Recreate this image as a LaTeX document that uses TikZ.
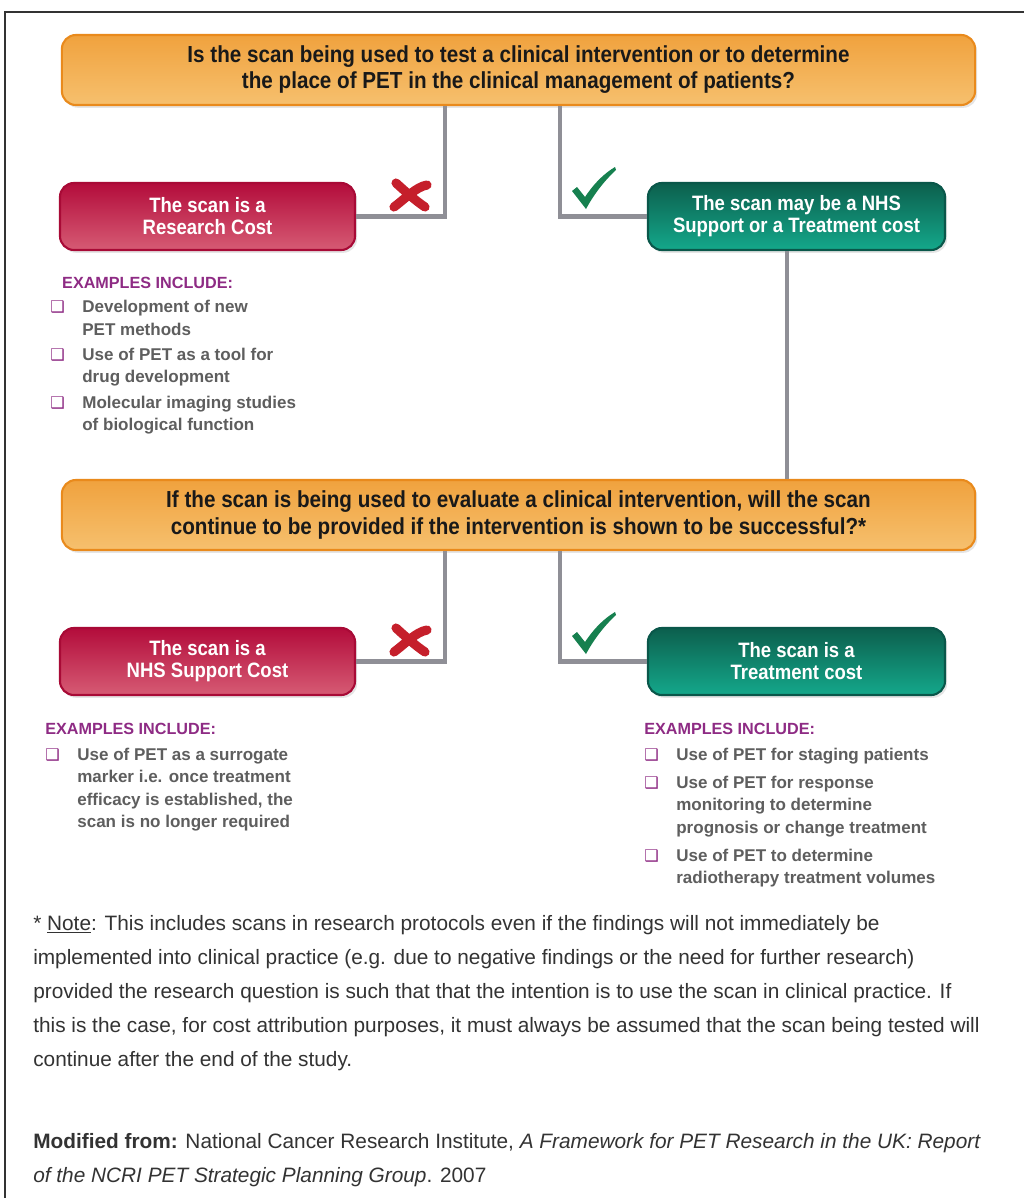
\documentclass[tikz,border=0pt]{standalone}
\usepackage{fontspec}
\usepackage{tikz}
\usetikzlibrary{calc,shadows}

\setmainfont{Liberation Sans}
\newfontfamily\condfont[FakeStretch=0.89]{Liberation Sans}
\newfontfamily\dingfont{DejaVu Sans}

\definecolor{qtop}{HTML}{F0A23E}
\definecolor{qbot}{HTML}{F6C06E}
\definecolor{qedge}{HTML}{E98A1C}
\definecolor{rtop}{HTML}{B30C3B}
\definecolor{rbot}{HTML}{D65B74}
\definecolor{redge}{HTML}{A80A36}
\definecolor{gtop}{HTML}{0C5F4D}
\definecolor{gbot}{HTML}{14A88B}
\definecolor{gedge}{HTML}{0A574A}
\definecolor{linkgray}{HTML}{8F8F96}
\definecolor{expurple}{HTML}{8E2B84}
\definecolor{exgray}{HTML}{5E5E5E}
\definecolor{notegray}{HTML}{333333}
\definecolor{xred}{HTML}{C51F2B}
\definecolor{okgreen}{HTML}{16804F}

\newcommand{\exhead}[1]{\multicolumn{2}{@{}l@{}}{\fontsize{11.5}{16}\selectfont\color{expurple}#1}}
\newcommand{\exbul}{\makebox[22.8pt][l]{\color{expurple}\dingfont\fontsize{11.5}{11.5}\selectfont ❑}}

\begin{document}
\begin{tikzpicture}[x=0.025cm, y=-0.025cm]

        % Page size in pixels of the original, y runs downwards
        \useasboundingbox (0, 0) rectangle (1024, 1198);
        \fill[white] (0, 0) rectangle (1024, 1198);

        \tikzset{
            question/.style={draw=qedge, line width=1.5pt, rounded corners=10pt,
                top color=qtop, bottom color=qbot, text=black!90,
                minimum width=22.825cm, minimum height=1.75cm, align=center,
                font=\condfont\bfseries\fontsize{16.5}{18.5}\selectfont,
                drop shadow={opacity=0.2, shadow xshift=1.5pt, shadow yshift=-2pt}},
            costbox/.style={line width=1.5pt, rounded corners=10pt, text=white,
                minimum height=1.675cm, align=center,
                font=\condfont\bfseries\fontsize{14.8}{15.6}\selectfont,
                drop shadow={opacity=0.2, shadow xshift=1.5pt, shadow yshift=-2pt}},
            nobox/.style={costbox, draw=redge, top color=rtop, bottom color=rbot,
                minimum width=7.375cm},
            yesbox/.style={costbox, draw=gedge, top color=gtop, bottom color=gbot,
                minimum width=7.425cm},
            link/.style={draw=linkgray, line width=3pt},
            examples/.style={anchor=north west, inner sep=0pt, text=exgray,
                font=\bfseries\fontsize{12.1}{16}\selectfont},
            note/.style={anchor=north west, inner sep=0pt, align=left,
                text=notegray, font=\fontsize{14.8}{24.2}\selectfont},
            nomark/.pic={
                \draw[xred, line width=6.5pt, line cap=round]
                    (-14, -12) .. controls (-3, -2) and (6, 6) .. (15, 12);
                \draw[xred, line width=6.5pt, line cap=round]
                    (-16, 12) .. controls (-4, 3) and (6, -8) .. (17, -10);
            },
            okmark/.pic={
                \fill[okgreen] (-21, 3) -- (-16, -1) -- (-8, 9)
                    .. controls (2, -6) and (12, -15) .. (22, -21) -- (23, -18)
                    .. controls (10, -6) and (0, 8) .. (-7, 21) -- cycle;
            }
        }

        % Frame round the figure, only top and left are in view
        \draw[line width=1.2pt, black!80] (5, 1198) -- (5, 12) -- (1024, 12);

        % Question boxes and the cost boxes under them
        \node (Q1) at (518.5, 70)[question] {Is the scan being used to test a clinical intervention or to determine\\
            the place of PET in the clinical management of patients?};
        \node (R1) at (207.5, 216.5)[nobox] {The scan is a\\ Research Cost};
        \node (G1) at (796.5, 216.5)[yesbox] {The scan may be a NHS\\ Support or a Treatment cost};

        \node (Q2) at (518.5, 515)[question] {If the scan is being used to evaluate a clinical intervention, will the scan\\
            continue to be provided if the intervention is shown to be successful?*};
        \node (R2) at (207.5, 661.5)[nobox] {The scan is a\\ NHS Support Cost};
        \node (G2) at (796.5, 661.5)[yesbox] {The scan is a\\ Treatment cost};

        % x positions of the vertical connector lines
        \coordinate (xL) at (445, 0);
        \coordinate (xR) at (560, 0);
        \coordinate (xV) at (787, 0);

        \begin{scope}[link]
            \draw (Q1.south -| xL) |- (R1.east);
            \draw (Q1.south -| xR) |- (G1.west);
            \draw (G1.south -| xV) -- (Q2.north -| xV);
            \draw (Q2.south -| xL) |- (R2.east);
            \draw (Q2.south -| xR) |- (G2.west);
        \end{scope}

        % Cross and tick beside the connectors
        \pic at (410, 195) {nomark};
        \pic at (593, 188) {okmark};
        \pic at (410, 640) {nomark};
        \pic at (593, 633) {okmark};

        % Lists of examples
        \node (E1) at (50, 272)[examples] {\begin{tabular}{@{}l@{}l@{}}
            \exhead{\hspace*{8.5pt}EXAMPLES INCLUDE:}\\[1.5pt]
            \exbul & Development of new\\
                   & PET methods\\[2pt]
            \exbul & Use of PET as a tool for\\
                   & drug development\\[2pt]
            \exbul & Molecular imaging studies\\
                   & of biological function
        \end{tabular}};

        \node (E2) at (45, 718)[examples] {\begin{tabular}{@{}l@{}l@{}}
            \exhead{EXAMPLES INCLUDE:}\\[2.5pt]
            \exbul & Use of PET as a surrogate\\
                   & marker i.e. once treatment\\
                   & efficacy is established, the\\
                   & scan is no longer required
        \end{tabular}};

        \node (E3) at (644, 718)[examples] {\begin{tabular}{@{}l@{}l@{}}
            \exhead{EXAMPLES INCLUDE:}\\[2.5pt]
            \exbul & Use of PET for staging patients\\[4pt]
            \exbul & Use of PET for response\\
                   & monitoring to determine\\
                   & prognosis or change treatment\\[4pt]
            \exbul & Use of PET to determine\\
                   & radiotherapy treatment volumes
        \end{tabular}};

        % Footnote and source
        \node (N1) at (33, 915)[note] {* \underline{Note}: This includes scans in research protocols even if the findings will not immediately be\\
            implemented into clinical practice (e.g. due to negative findings or the need for further research)\\
            provided the research question is such that that the intention is to use the scan in clinical practice. If\\
            this is the case, for cost attribution purposes, it must always be assumed that the scan being tested will\\
            continue after the end of the study.};
        \node (N2) at (33, 1133)[note] {\textbf{Modified from:} National Cancer Research Institute, \textit{A Framework for PET Research in the UK: Report}\\
            \textit{of the NCRI PET Strategic Planning Group}. 2007};

\end{tikzpicture}
\end{document}
